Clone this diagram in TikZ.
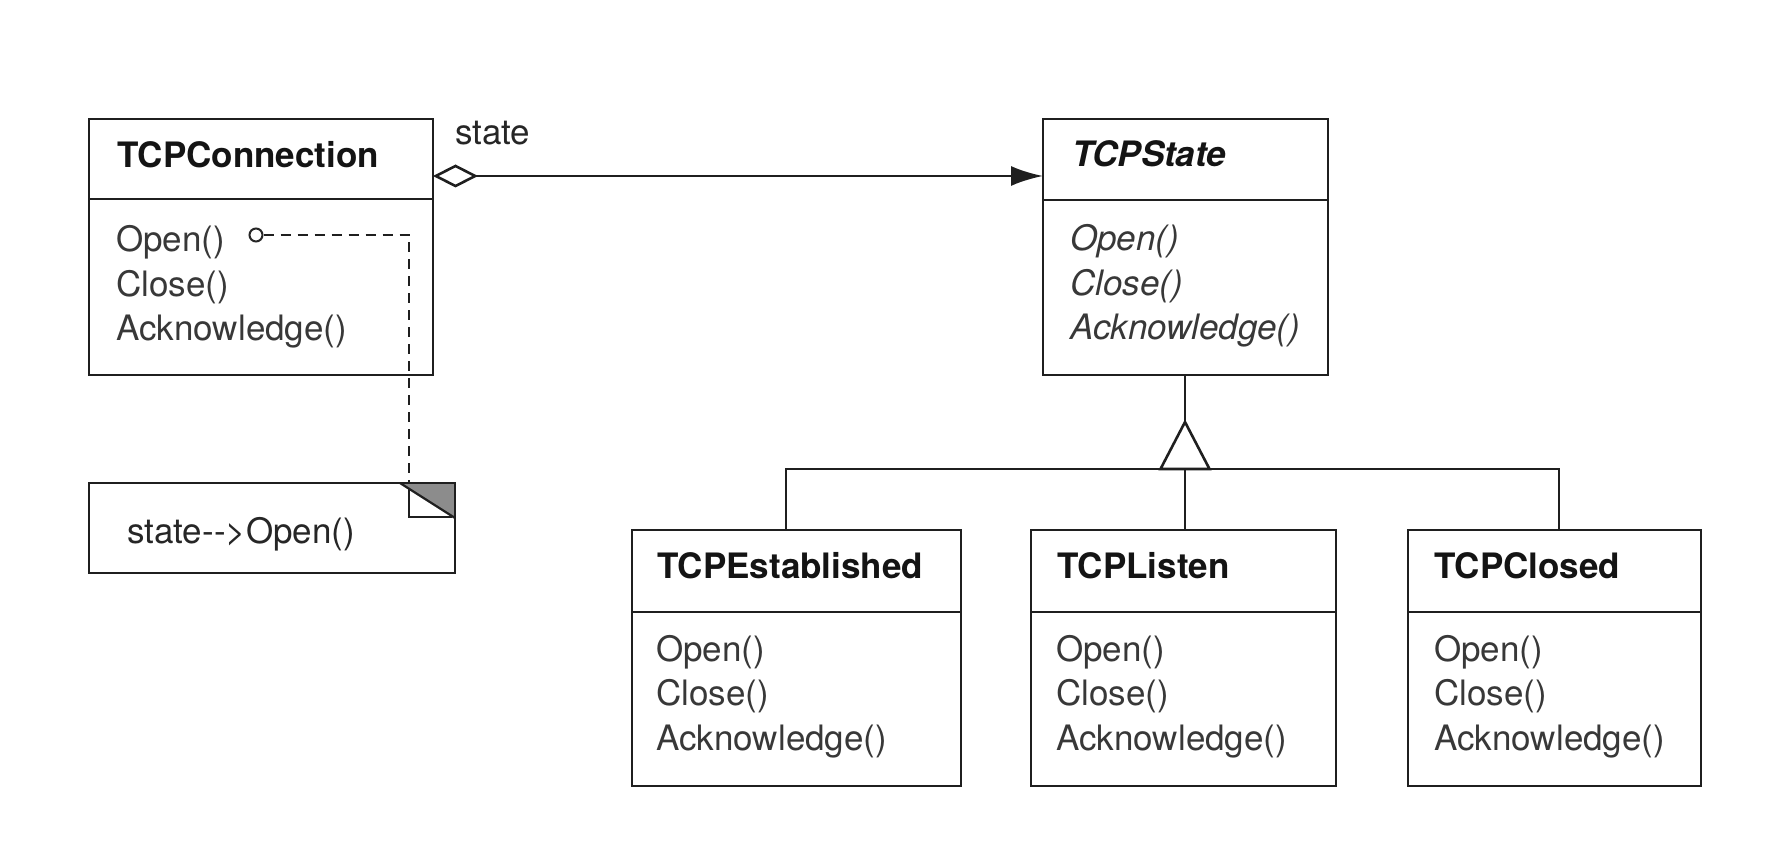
\documentclass[tikz,border=0pt]{standalone}
\usepackage{fontspec}
\setmainfont{TeX Gyre Heros}
\usetikzlibrary{arrows.meta}

% one line of a class's operation list
\newcommand{\oplist}[4]{%
  \foreach \op [count=\k] in {Open(),Close(),Acknowledge()}
    \node[meth,#4] (#1-op\k) at (#2,{#3+44.5*(\k-1)}) {\op};}

\begin{document}
\begin{tikzpicture}[x=1pt,y=-1pt,
  ink/.style={draw=black!88, line width=2.8pt},
  classbox/.style 2 args={ink, rectangle, anchor=north west, inner sep=0pt,
    outer sep=0pt, minimum width=#1, minimum height=#2},
  cname/.style={anchor=base west, inner sep=0pt, text=black!92,
    font=\fontsize{35}{40}\selectfont\bfseries},
  meth/.style={anchor=base west, inner sep=0pt, text=black!78,
    font=\fontsize{35}{40}\selectfont},
  abstract/.style={font=\fontsize{35}{40}\selectfont\itshape},
  link/.style={draw=black!88, line width=2.6pt}]

\useasboundingbox[fill=white] (0,0) rectangle (1792,858);

% ---- class boxes ----
\node[classbox={344pt}{256pt}] (conn)   at (89,119)   {};
\node[classbox={285pt}{256pt}] (state)  at (1043,119) {};
\node[classbox={329pt}{256pt}] (est)    at (632,530)  {};
\node[classbox={305pt}{256pt}] (listen) at (1031,530) {};
\node[classbox={293pt}{256pt}] (closed) at (1408,530) {};

% name / operation dividers
\draw[ink] ([yshift=-80pt]conn.north west)   -- ([yshift=-80pt]conn.north east);
\draw[ink] ([yshift=-81pt]state.north west)  -- ([yshift=-81pt]state.north east);
\draw[ink] ([yshift=-82pt]est.north west)    -- ([yshift=-82pt]est.north east);
\draw[ink] ([yshift=-82pt]listen.north west) -- ([yshift=-82pt]listen.north east);
\draw[ink] ([yshift=-82pt]closed.north west) -- ([yshift=-82pt]closed.north east);

% ---- class names ----
\node[cname] (conn-name)   at (117,168)  {TCPConnection};
\node[cname] (state-name)  at (1072,167) {\bfseries\itshape TCPState};
\node[cname] (est-name)    at (657,578)  {TCPEstablished};
\node[cname] (listen-name) at (1057,578) {TCPListen};
\node[cname] (closed-name) at (1434,578) {TCPClosed};

% ---- operations ----
\oplist{conn}{116}{252}{}
\oplist{state}{1070}{251}{abstract}
\oplist{est}{656}{661}{}
\oplist{listen}{1056}{661}{}
\oplist{closed}{1434}{661}{}

% ---- association TCPConnection -> TCPState ----
\draw[link, {Diamond[open,length=45pt,width=23pt]}-{Latex[length=32pt,width=20pt]}]
  ([yshift=-57pt]conn.north east) -- ([yshift=-57pt]state.north west);
\node[meth, text=black!85] (role) at (455,145) {state};

% ---- implementation note ----
\node[classbox={366pt}{90pt}] (note) at (89,483) {};
\node[meth, text=black!85] (note-text) at (127,543) {state-{}->Open()};
\fill[black!45] ([xshift=-55pt]note.north east) -- (note.north east)
  -- ([yshift=-35pt]note.north east) -- cycle;
\draw[ink] ([xshift=-55pt]note.north east) -- (note.north east)
  -- ([yshift=-35pt]note.north east);
\draw[link, line width=2.2pt] ([xshift=-55pt]note.north east) -- ([yshift=-35pt]note.north east);
\coordinate (note-pin) at ([xshift=-46pt]note.north east);
\draw[link, line width=2.2pt] ([yshift=-6pt]note-pin)
  -- ([yshift=-34pt]note-pin) -- ([xshift=-3pt,yshift=-34pt]note.north east);

\node[circle, draw=black!85, line width=2pt, minimum size=13pt, inner sep=0pt,
  fill=white] (pin) at (256,235) {};
\draw[link, line width=2.2pt, dash pattern=on 10pt off 7pt] (pin.east) -| (note-pin);

% ---- generalization ----
\coordinate (apex) at (1185,422);
\coordinate (bus)  at (1185,469);
\draw[link] (apex |- state.south) -- (apex);
\draw[link] ([xshift=154pt]est.north west) -- ++(0,-61)
  -| ([xshift=151pt]closed.north west);
\draw[link] (bus) -- (bus |- listen.north);
\draw[link, fill=white] (apex) -- ++(-24.5,47) -- ++(49,0) -- cycle;

\end{tikzpicture}
\end{document}
